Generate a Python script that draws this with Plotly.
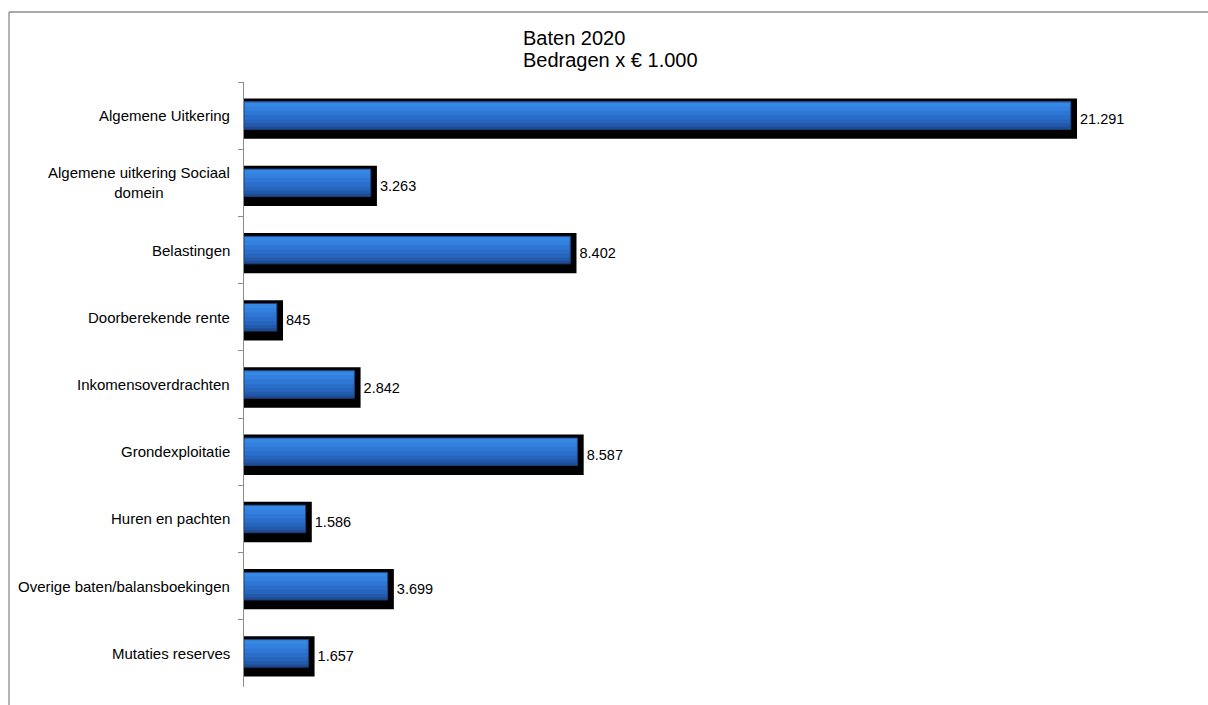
import plotly.graph_objects as go

categories = [
    "Algemene Uitkering",
    "Algemene uitkering Sociaal<br>domein",
    "Belastingen",
    "Doorberekende rente",
    "Inkomensoverdrachten",
    "Grondexploitatie",
    "Huren en pachten",
    "Overige baten/balansboekingen",
    "Mutaties reserves",
]
values = [21291, 3263, 8402, 845, 2842, 8587, 1586, 3699, 1657]

title_lines = ["Baten 2020", "Bedragen x € 1.000"]

W, H = 1208, 705
L, R, T, B = 244, 32, 82, 18
X_MAX = 24000
SHADOW_PAD = 160  # shadow extends a few pixels beyond bar end (in data units)

FONT = "Arial, Liberation Sans, sans-serif"

labels_txt = [f"{v:,}".replace(",", ".") for v in values]

fig = go.Figure()

# shadow bars (black, slightly larger and shifted down)
fig.add_trace(go.Bar(
    y=categories, x=[v + SHADOW_PAD for v in values], orientation="h",
    marker=dict(color="#000000", line=dict(width=0)),
    width=0.6, offset=-0.255,
    text=labels_txt, textposition="outside",
    outsidetextfont=dict(family=FONT, size=14.5, color="#000000"),
    cliponaxis=False, hoverinfo="skip", showlegend=False,
))

# main blue bars with layered gradient (dark bottom -> light top)
BAR_TOP = -0.205
BAR_W = 0.41
gradient = [
    (1.00, "#1d4c94"),
    (0.90, "#2359aa"),
    (0.78, "#2764bb"),
    (0.64, "#2b6ec9"),
    (0.48, "#2f77d5"),
    (0.32, "#3380de"),
    (0.16, "#3788e5"),
]
for i, (frac, col) in enumerate(gradient):
    fig.add_trace(go.Bar(
        y=categories, x=values, orientation="h",
        marker=dict(color=col, line=dict(width=0)),
        width=BAR_W * frac, offset=BAR_TOP,
        showlegend=False,
        hoverinfo="skip" if i else None,
        hovertemplate=None if i else "%{y}: %{x}<extra></extra>",
    ))
# thin dark outline on blue bar
fig.add_trace(go.Bar(
    y=categories, x=values, orientation="h",
    marker=dict(color="rgba(0,0,0,0)", line=dict(color="#1a3f78", width=1)),
    width=BAR_W, offset=BAR_TOP,
    showlegend=False, hoverinfo="skip",
))

pw = W - L - R
ph = H - T - B
def px_x(p):
    return (p - L) / pw
def px_y(p):
    return 1 - (p - T) / ph

annotations = []
for c in categories:
    annotations.append(dict(
        xref="paper", x=0, xshift=-12, xanchor="right",
        yref="y", y=c, yanchor="middle",
        text=c, align="center", showarrow=False,
        font=dict(family=FONT, size=15, color="#000000"),
    ))
for line, yc in zip(title_lines, [37.5, 60]):
    annotations.append(dict(
        xref="paper", x=px_x(521), xanchor="left",
        yref="paper", y=px_y(yc), yanchor="middle",
        text=line, showarrow=False, align="left",
        font=dict(family=FONT, size=20, color="#000000"),
    ))

shapes = [
    dict(type="line", xref="paper", yref="paper",
         x0=px_x(9), x1=px_x(W + 5), y0=px_y(12), y1=px_y(12),
         line=dict(color="#8c8c8c", width=1.3)),
    dict(type="line", xref="paper", yref="paper",
         x0=px_x(9), x1=px_x(9), y0=px_y(12), y1=px_y(H + 5),
         line=dict(color="#8c8c8c", width=1.3)),
]

fig.update_layout(
    width=W, height=H,
    margin=dict(l=L, r=R, t=T, b=B),
    paper_bgcolor="white", plot_bgcolor="white",
    barmode="overlay",
    xaxis=dict(range=[0, X_MAX], visible=False, fixedrange=True),
    yaxis=dict(
        type="category", categoryorder="array", categoryarray=categories,
        range=[len(categories) - 0.5, -0.5],
        showticklabels=False, ticks="outside", tickson="boundaries",
        ticklen=5, tickcolor="#8c8c8c", tickwidth=1,
        showline=True, linecolor="#8c8c8c", linewidth=1,
        showgrid=False, zeroline=False, fixedrange=True,
    ),
    annotations=annotations,
    shapes=shapes,
    font=dict(family=FONT, size=15, color="#000000"),
)

fig.write_html(
    "out.html",
    config={"displayModeBar": False},
    post_script="document.body.style.margin='0';document.body.style.overflow='hidden';",
)
